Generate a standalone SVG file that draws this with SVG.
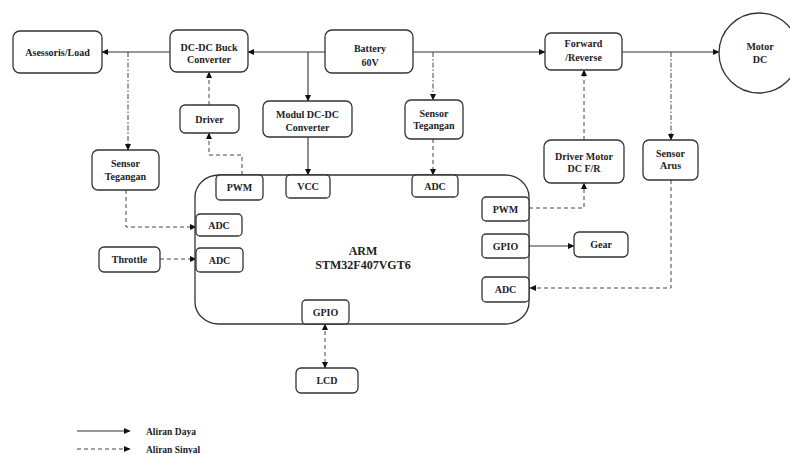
<svg xmlns="http://www.w3.org/2000/svg" width="790" height="454" viewBox="0 0 790 454">
<style>
.box{fill:#fff;stroke:#333;stroke-width:1.3}
.t{font-family:'Liberation Serif',serif;font-weight:bold;font-size:10px;fill:#222;text-anchor:middle}
.big{font-size:12px}
.lg{font-size:9.5px;text-anchor:start}
.p{fill:none;stroke:#333;stroke-width:1.1}
.s{fill:none;stroke:#444;stroke-width:1;stroke-dasharray:4 3}
.dd{fill:none;stroke:#444;stroke-width:1;stroke-dasharray:5 2 1.5 2}
</style>
<defs>
<marker id="a" markerUnits="userSpaceOnUse" markerWidth="7" markerHeight="6" refX="6" refY="3" orient="auto-start-reverse">
<path d="M0,0 L6.5,3 L0,6 z" fill="#111"/>
</marker>
</defs>
<rect width="790" height="454" fill="#fff"/>

<g id="connectors">
<path class="p" d="M325,52 H248" marker-end="url(#a)"/>
<path class="p" d="M170,52 H102" marker-end="url(#a)"/>
<path class="p" d="M308,52 V101" marker-end="url(#a)"/>
<path class="p" d="M308,137 V175" marker-end="url(#a)"/>
<path class="p" d="M413,52 H545" marker-end="url(#a)"/>
<path class="p" d="M622,52 H719" marker-end="url(#a)"/>
<path class="dd" d="M128,52 V150" marker-end="url(#a)"/>
<path class="s" d="M126,190 V227 H196" marker-end="url(#a)"/>
<path class="s" d="M209,105 V72" marker-end="url(#a)"/>
<path class="s" d="M242,175 V155 H209 V133" marker-end="url(#a)"/>
<path class="dd" d="M433,52 V100" marker-end="url(#a)"/>
<path class="s" d="M433,139 V175" marker-end="url(#a)"/>
<path class="s" d="M584,140 V70" marker-end="url(#a)"/>
<path class="s" d="M529,208 H584 V183" marker-end="url(#a)"/>
<path class="p" d="M529,246 H574" marker-end="url(#a)"/>
<path class="dd" d="M671,52 V140" marker-end="url(#a)"/>
<path class="s" d="M671,180 V288 H530" marker-end="url(#a)"/>
<path class="s" d="M160,259 H196" marker-end="url(#a)"/>
<path class="s" d="M325,324 V368" marker-start="url(#a)" marker-end="url(#a)"/>
</g>

<g id="arm">
<rect class="box" x="195" y="175" width="334" height="149" rx="24" ry="22"/>
<text class="t big" x="363" y="255">ARM</text>
<text class="t big" x="363" y="269">STM32F407VGT6</text>
</g>
<g id="pwm1"><rect class="box" x="216" y="175" width="47" height="25" rx="4"/><text class="t" x="239.5" y="191">PWM</text></g>
<g id="vcc"><rect class="box" x="286" y="175" width="44" height="23" rx="4"/><text class="t" x="308" y="190">VCC</text></g>
<g id="adc-top"><rect class="box" x="412" y="175" width="46" height="22" rx="4"/><text class="t" x="435" y="190">ADC</text></g>
<g id="adc-l1"><rect class="box" x="196" y="214" width="46" height="22" rx="4"/><text class="t" x="219" y="229">ADC</text></g>
<g id="adc-l2"><rect class="box" x="196" y="248" width="47" height="24" rx="4"/><text class="t" x="219.5" y="264">ADC</text></g>
<g id="gpio-b"><rect class="box" x="302" y="300" width="47" height="24" rx="4"/><text class="t" x="325.5" y="316">GPIO</text></g>
<g id="pwm-r"><rect class="box" x="482" y="197" width="47" height="24" rx="4"/><text class="t" x="505.5" y="213">PWM</text></g>
<g id="gpio-r"><rect class="box" x="482" y="234" width="47" height="24" rx="4"/><text class="t" x="505.5" y="250">GPIO</text></g>
<g id="adc-r"><rect class="box" x="482" y="277" width="47" height="25" rx="4"/><text class="t" x="505.5" y="293">ADC</text></g>

<g id="load"><rect class="box" x="13" y="31" width="89" height="42" rx="7"/><text class="t" x="57.5" y="55.5">Asessoris/Load</text></g>
<g id="buck"><rect class="box" x="170" y="30" width="78" height="42" rx="7"/><text class="t" x="209" y="50.5">DC-DC Buck</text><text class="t" x="209" y="62.5">Converter</text></g>
<g id="battery"><rect class="box" x="325" y="30" width="88" height="43" rx="7"/><text class="t" x="370" y="51.5">Battery</text><text class="t" x="370" y="66">60V</text></g>
<g id="driver"><rect class="box" x="180" y="105" width="59" height="28" rx="5"/><text class="t" x="209.5" y="122.5">Driver</text></g>
<g id="modul"><rect class="box" x="263" y="101" width="89" height="36" rx="6"/><text class="t" x="307.5" y="117.5">Modul DC-DC</text><text class="t" x="307.5" y="130.5">Converter</text></g>
<g id="sensor-l"><rect class="box" x="92" y="150" width="67" height="40" rx="6"/><text class="t" x="125.5" y="166.5">Sensor</text><text class="t" x="125.5" y="179.5">Tegangan</text></g>
<g id="throttle"><rect class="box" x="99" y="247" width="61" height="25" rx="5"/><text class="t" x="129.5" y="263">Throttle</text></g>
<g id="lcd"><rect class="box" x="296" y="368" width="62" height="25" rx="5"/><text class="t" x="327" y="384">LCD</text></g>
<g id="sensor-r"><rect class="box" x="405" y="100" width="58" height="39" rx="6"/><text class="t" x="434" y="116.5">Sensor</text><text class="t" x="434" y="128.5">Tegangan</text></g>
<g id="forward"><rect class="box" x="545" y="33" width="77" height="37" rx="6"/><text class="t" x="583.5" y="46.5">Forward</text><text class="t" x="583.5" y="60.5">/Reverse</text></g>
<g id="motor"><circle class="box" cx="759" cy="53" r="40"/><text class="t" x="760" y="49.5">Motor</text><text class="t" x="760" y="62.5">DC</text></g>
<g id="drvmotor"><rect class="box" x="544" y="140" width="80" height="43" rx="7"/><text class="t" x="584" y="159.5">Driver Motor</text><text class="t" x="584" y="171.5">DC F/R</text></g>
<g id="arus"><rect class="box" x="643" y="140" width="55" height="40" rx="6"/><text class="t" x="670.5" y="156.5">Sensor</text><text class="t" x="670.5" y="168.5">Arus</text></g>
<g id="gear"><rect class="box" x="574" y="232" width="54" height="25" rx="5"/><text class="t" x="601" y="248">Gear</text></g>

<g id="legend">
<path class="p" d="M77,431 H130" marker-end="url(#a)"/>
<path class="s" d="M77,449 H130" marker-end="url(#a)"/>
<text class="t lg" x="146" y="434.5">Aliran Daya</text>
<text class="t lg" x="146" y="452.5">Aliran Sinyal</text>
</g>
</svg>
